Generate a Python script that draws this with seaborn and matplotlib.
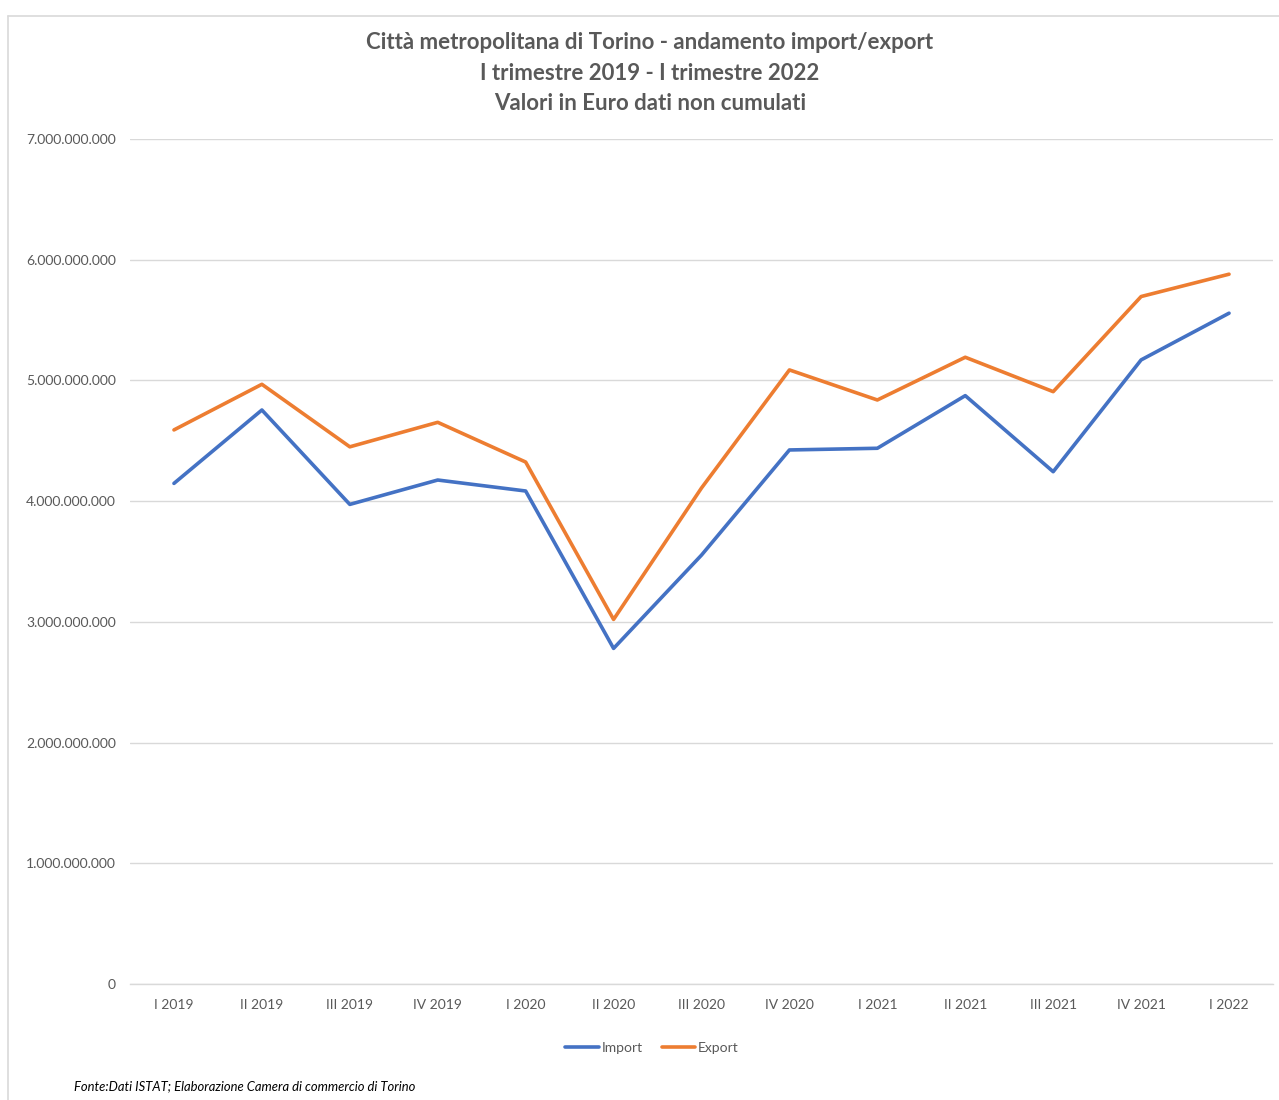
import matplotlib
matplotlib.use("Agg")
import matplotlib.pyplot as plt
from matplotlib.lines import Line2D
from matplotlib.ticker import FuncFormatter
import seaborn as sns
import pandas as pd

# Quarterly trade values, Città metropolitana di Torino (euro)
quarters = ["I 2019", "II 2019", "III 2019", "IV 2019", "I 2020", "II 2020",
            "III 2020", "IV 2020", "I 2021", "II 2021", "III 2021", "IV 2021", "I 2022"]
import_values = [4.147e9, 4.755e9, 3.973e9, 4.175e9, 4.084e9, 2.780e9,
                 3.553e9, 4.424e9, 4.438e9, 4.874e9, 4.244e9, 5.170e9, 5.557e9]
export_values = [4.590e9, 4.968e9, 4.450e9, 4.653e9, 4.324e9, 3.020e9,
                 4.109e9, 5.087e9, 4.838e9, 5.192e9, 4.907e9, 5.695e9, 5.880e9]
series_names = ["Import", "Export"]
series_colors = ["#4472C4", "#ED7D31"]

df = pd.DataFrame({
    "Trimestre": quarters * 2,
    "Valore": import_values + export_values,
    "Serie": [series_names[0]] * len(quarters) + [series_names[1]] * len(quarters),
})

sns.set_theme(style="white")
plt.rcParams["font.family"] = ["Lato", "DejaVu Sans"]

text_grey = "#595959"
grid_grey = "#D9D9D9"

fig = plt.figure(figsize=(12.79, 11.0), dpi=100)
ax = fig.add_axes([130 / 1279, 1 - 984 / 1100, (1273 - 130) / 1279, (984 - 139) / 1100])

sns.lineplot(data=df, x="Trimestre", y="Valore", hue="Serie",
             palette=dict(zip(series_names, series_colors)),
             linewidth=2.6, sort=False, ax=ax, legend=False)

ax.set_xlim(-0.5, len(quarters) - 0.5)
ax.set_ylim(0, 7e9)
ax.set_yticks([i * 1e9 for i in range(8)])
ax.yaxis.set_major_formatter(FuncFormatter(lambda v, p: f"{int(round(v)):,}".replace(",", ".")))
ax.set_xlabel("")
ax.set_ylabel("")

ax.grid(axis="y", color=grid_grey, linewidth=1.0)
ax.grid(axis="x", visible=False)
ax.set_axisbelow(True)
for side in ["left", "right", "top"]:
    ax.spines[side].set_visible(False)
ax.spines["bottom"].set_color(grid_grey)
ax.spines["bottom"].set_linewidth(1.0)

ax.tick_params(axis="both", length=0, colors=text_grey, labelsize=10)
ax.tick_params(axis="y", pad=10)
ax.tick_params(axis="x", pad=11)

fig.text(0.508, 1 - 73 / 1100,
         "Città metropolitana di Torino - andamento import/export\n"
         "I trimestre 2019 - I trimestre 2022\n"
         "Valori in Euro dati non cumulati",
         ha="center", va="center", fontsize=16, fontweight="bold",
         color=text_grey, linespacing=1.58, transform=fig.transFigure)

handles = [Line2D([0], [0], color=c, linewidth=2.6) for c in series_colors]
fig.legend(handles, series_names, loc="center", bbox_to_anchor=(652 / 1279, 1 - 1048 / 1100),
           ncol=2, frameon=False, fontsize=10, labelcolor=text_grey,
           handlelength=2.4, handletextpad=0.2, columnspacing=1.4)

fig.text(74 / 1279, 1 - 1086 / 1100,
         "Fonte:Dati ISTAT; Elaborazione Camera di commercio di Torino",
         ha="left", va="center", fontsize=9.4, style="italic", color="#000000")

# Chart frame (top and left edges)
fig.add_artist(Line2D([8 / 1279, 8 / 1279], [0, 1 - 16 / 1100], color=grid_grey,
                      linewidth=1.2, transform=fig.transFigure))
fig.add_artist(Line2D([8 / 1279, 1], [1 - 16 / 1100, 1 - 16 / 1100], color=grid_grey,
                      linewidth=1.2, transform=fig.transFigure))

fig.savefig("out.png", dpi=100, facecolor="white")
